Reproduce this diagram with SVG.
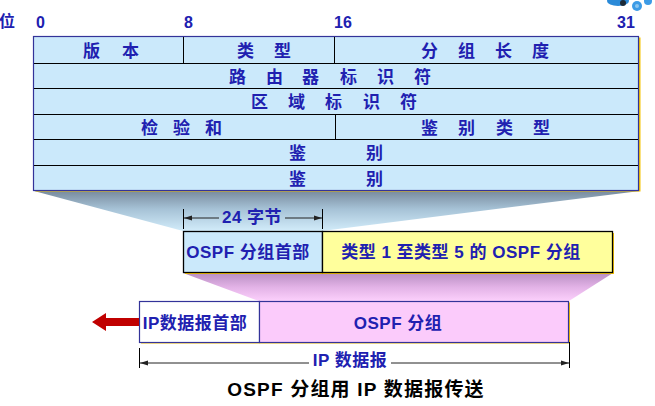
<svg xmlns="http://www.w3.org/2000/svg" width="655" height="406" viewBox="0 0 655 406">
<style>
.t{font-family:"Liberation Sans","Noto Sans CJK SC",sans-serif;font-weight:bold;fill:#2020b0}
.f17{font-size:17px}
.f16{font-size:16px}
.lb{font-size:17px;letter-spacing:0.5px}
.cap{font-family:"Liberation Sans","Noto Sans CJK SC",sans-serif;font-weight:bold;font-size:19px;letter-spacing:1.2px;fill:#000}
.sep{stroke:#000;stroke-width:1}
.dim{stroke:#222;stroke-width:1;fill:none}
.tick{stroke:#000;stroke-width:1}
</style>
<defs>
<linearGradient id="gBlue" x1="0" y1="0" x2="0" y2="1">
<stop offset="0" stop-color="#788b9e"/>
<stop offset="0.45" stop-color="#a6c2d6"/>
<stop offset="1" stop-color="#d2ecfa"/>
</linearGradient>
<linearGradient id="gPink" x1="0" y1="0" x2="0" y2="1">
<stop offset="0" stop-color="#b88fc2"/>
<stop offset="0.5" stop-color="#e2b2e6"/>
<stop offset="1" stop-color="#fcd0fc"/>
</linearGradient>
<marker id="ah" markerWidth="8" markerHeight="6" refX="8" refY="3" orient="auto" markerUnits="userSpaceOnUse">
<path d="M0,0.5 L8,3 L0,5.5 Z" fill="#222"/>
</marker>
</defs>
<rect width="655" height="406" fill="#fff"/>

<g id="pin-decoration">
<ellipse cx="618" cy="1" rx="11" ry="5" fill="#2a8ad8"/>
<circle cx="623" cy="3" r="3" fill="#1c2a38"/>
<circle cx="637" cy="6" r="5" fill="#3c9be6"/>
<circle cx="637" cy="6" r="2" fill="#8cc6f0"/>
<circle cx="648" cy="1" r="4" fill="#3c9be6"/>
</g>

<g id="bit-scale">
<text class="t f16" x="-1" y="27">位</text>
<text class="t f16" x="36" y="28">0</text>
<text class="t f16" x="184" y="28">8</text>
<text class="t f16" x="334" y="28">16</text>
<text class="t f16" x="617" y="28">31</text>
</g>

<g id="shading">
<polygon points="34,191 640,191 322,231 183,231" fill="url(#gBlue)"/>
<polygon points="183,273 613,273 569,301 259,301" fill="url(#gPink)"/>
</g>

<g id="ospf-header-table">
<rect x="35.5" y="37.5" width="605" height="154" fill="#f5c400"/>
<rect x="33.5" y="36.5" width="605" height="154" fill="#cbe9fb" stroke="#333399" stroke-width="1.2"/>
<line class="sep" x1="34" y1="63.5" x2="638" y2="63.5"/>
<line class="sep" x1="34" y1="88.5" x2="638" y2="88.5"/>
<line class="sep" x1="34" y1="114.5" x2="638" y2="114.5"/>
<line class="sep" x1="34" y1="139.5" x2="638" y2="139.5"/>
<line class="sep" x1="34" y1="165.5" x2="638" y2="165.5"/>
<line class="sep" x1="183.5" y1="37" x2="183.5" y2="63"/>
<line class="sep" x1="334.5" y1="37" x2="334.5" y2="63"/>
<line class="sep" x1="335.5" y1="115" x2="335.5" y2="139"/>
<g id="f-version"><text class="t f17" x="83 122" y="57">版本</text></g>
<g id="f-type"><text class="t f17" x="237 274" y="57">类型</text></g>
<g id="f-length"><text class="t f17" x="421 458 495 532" y="57">分组长度</text></g>
<g id="f-router"><text class="t f17" x="229 266 302 340 377 414" y="83">路由器标识符</text></g>
<g id="f-area"><text class="t f17" x="251 288 325 363 400" y="108">区域标识符</text></g>
<g id="f-checksum"><text class="t f17" x="141 173 205" y="134">检验和</text></g>
<g id="f-authtype"><text class="t f17" x="421 458 496 533" y="134">鉴别类型</text></g>
<g id="f-auth1"><text class="t f17" x="289 366" y="159">鉴别</text></g>
<g id="f-auth2"><text class="t f17" x="289 366" y="185">鉴别</text></g>
</g>

<g id="ospf-packet">
<rect x="185" y="233" width="429" height="41" fill="#f5c400"/>
<rect x="183.5" y="231.5" width="139" height="41" fill="#cbe9fb" stroke="#000" stroke-width="1.3"/>
<rect x="322.5" y="231.5" width="290" height="41" fill="#ffff9c" stroke="#000" stroke-width="1.3"/>
<text class="t lb" x="248" y="258" text-anchor="middle">OSPF 分组首部</text>
<text class="t lb" x="461" y="258" text-anchor="middle">类型 1 至类型 5 的 OSPF 分组</text>
</g>

<g id="ip-datagram">
<rect x="141" y="302.5" width="429" height="41" fill="#f5c400"/>
<rect x="139.5" y="301.5" width="120" height="41" fill="#fff" stroke="#333399" stroke-width="1.2"/>
<rect x="259.5" y="301.5" width="309" height="41" fill="#fbcbfb" stroke="#333399" stroke-width="1.2"/>
<text class="t lb" x="195" y="329" text-anchor="middle">IP数据报首部</text>
<text class="t lb" x="398" y="329" text-anchor="middle">OSPF 分组</text>
</g>

<g id="connectors">
<line class="tick" x1="183.5" y1="209" x2="183.5" y2="229"/>
<line class="tick" x1="322.5" y1="209" x2="322.5" y2="229"/>
<line class="dim" x1="219" y1="218" x2="184" y2="218" marker-end="url(#ah)"/>
<line class="dim" x1="285" y1="218" x2="322" y2="218" marker-end="url(#ah)"/>
<text class="t lb" x="252" y="223" text-anchor="middle">24 字节</text>

<line class="tick" x1="139.5" y1="348" x2="139.5" y2="368"/>
<line class="tick" x1="569.5" y1="342" x2="569.5" y2="368"/>
<line class="dim" x1="309" y1="363" x2="140" y2="363" marker-end="url(#ah)"/>
<line class="dim" x1="391" y1="363" x2="569" y2="363" marker-end="url(#ah)"/>
<text class="t lb" x="350" y="366" text-anchor="middle">IP 数据报</text>

<polygon points="92,322 106,313 106,318 139,318 139,326 106,326 106,331" fill="#c00000"/>
</g>

<g id="caption">
<text class="cap" x="356" y="396" text-anchor="middle">OSPF 分组用 IP 数据报传送</text>
</g>
</svg>
